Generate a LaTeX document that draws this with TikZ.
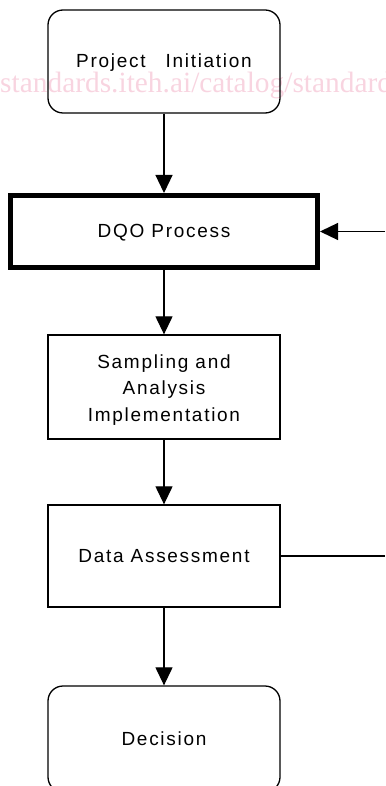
\documentclass[tikz,border=0pt]{standalone}
\usepackage{fontspec}
\setmainfont{Liberation Sans}[LetterSpace=9]
\newfontfamily\wmfont{Liberation Serif}
\usetikzlibrary{arrows.meta}
\definecolor{wmpink}{RGB}{248,212,224}
\tikzset{
  box/.style={draw=black, line width=1.3pt, minimum width=232pt, inner sep=0pt,
    align=center, font=\fontsize{19}{26.5}\selectfont},
  roundbox/.style={box, rounded corners=15pt},
  thickbox/.style={box, line width=5pt, minimum width=307pt},
  flow/.style={line width=1.2pt, -{Triangle[length=18pt,width=17pt]}},
  plain/.style={line width=1.2pt}
}
\begin{document}
\begin{tikzpicture}[x=1pt,y=-1pt]
\useasboundingbox (0,0) rectangle (385,786);
\node[font=\wmfont\fontsize{29.4}{29.4}\selectfont, text=wmpink, anchor=base west, inner sep=0pt] (wm) at (0,93) {standards.iteh.ai/catalog/standards};
\node[roundbox, minimum height=103pt] (init) at (164,61.5) {\raisebox{-1pt}[\height][\depth]{Project\hspace{13pt} Initiation}};
\node[thickbox, minimum height=72pt] (dqo) at (164,231.5) {\raisebox{-1pt}[\height][\depth]{DQO Process}};
\node[box, minimum height=104pt] (samp) at (164,387) {\raisebox{-3pt}[\height][\depth]{\parbox{200pt}{\centering Sampling and\\Analysis\\Implementation}}};
\node[box, minimum height=102pt] (assess) at (164,556) {Data Assessment};
\node[roundbox, minimum height=106pt] (dec) at (164,739) {Decision};
\coordinate (fbin) at (385,231.5);
\coordinate (fbout) at (385,556);
\draw[flow] (init) -- (dqo);
\draw[flow] (dqo) -- (samp);
\draw[flow] (samp) -- (assess);
\draw[flow] (assess) -- (dec);
\draw[flow] (fbin) -- (dqo.east);
\draw[plain] (assess.east) -- (fbout);
\end{tikzpicture}
\end{document}
